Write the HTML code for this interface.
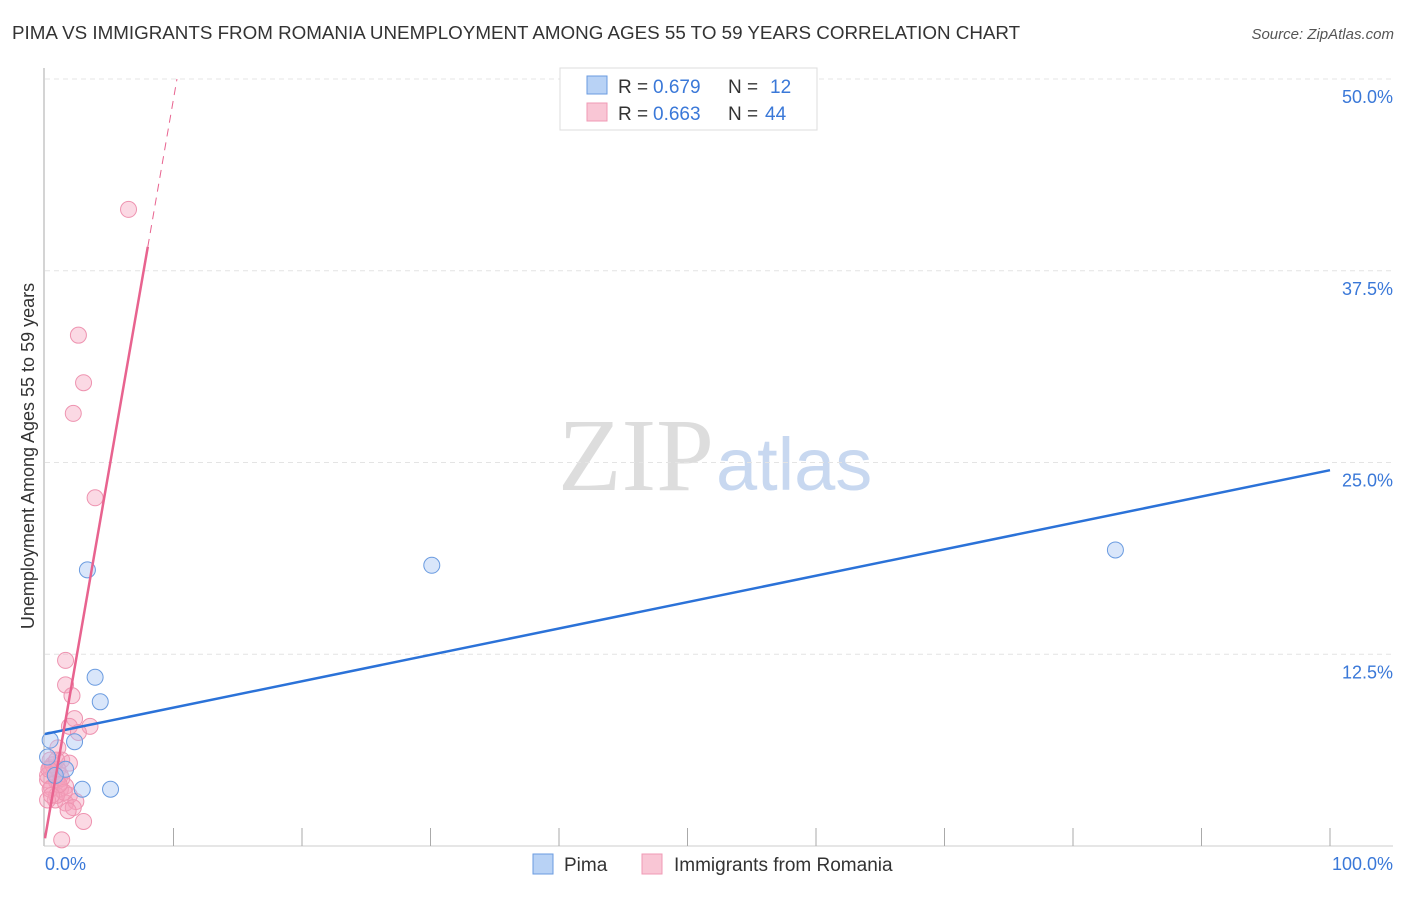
<!DOCTYPE html>
<html><head><meta charset="utf-8"><style>
body{margin:0;background:#fff;font-family:"Liberation Sans",sans-serif}
</style></head><body>
<svg id="c" width="1406" height="892" xmlns="http://www.w3.org/2000/svg" style="font-family:'Liberation Sans',sans-serif">
<text x="12" y="39" font-size="18.8" fill="#333">PIMA VS IMMIGRANTS FROM ROMANIA UNEMPLOYMENT AMONG AGES 55 TO 59 YEARS CORRELATION CHART</text>
<text x="1394" y="39" font-size="15" fill="#555" font-style="italic" text-anchor="end">Source: ZipAtlas.com</text>
<text x="714" y="490" font-size="104" fill="#ddd" font-family="'Liberation Serif',serif" text-anchor="end">ZIP</text>
<text x="716" y="490" font-size="74" fill="#c8d8f0">atlas</text>
<text transform="translate(34,456) rotate(-90)" font-size="18" fill="#333" text-anchor="middle">Unemployment Among Ages 55 to 59 years</text>
<g id="grid"></g><g id="marks"></g>
<g>
<rect x="560" y="68" width="257" height="62" fill="#fff" stroke="#ddd"/>
<rect x="587" y="76" width="20" height="18" fill="#b8d2f5" stroke="#6a9be0"/>
<text x="618" y="93" font-size="19" fill="#333">R =</text>
<text x="653" y="93" font-size="19" fill="#3a78d8">0.679</text>
<text x="728" y="93" font-size="19" fill="#333">N =</text>
<text x="770" y="93" font-size="19" fill="#3a78d8">12</text>
<rect x="587" y="103" width="20" height="18" fill="#f9c6d5" stroke="#f09ab5"/>
<text x="618" y="120" font-size="19" fill="#333">R =</text>
<text x="653" y="120" font-size="19" fill="#3a78d8">0.663</text>
<text x="728" y="120" font-size="19" fill="#333">N =</text>
<text x="765" y="120" font-size="19" fill="#3a78d8">44</text>
</g>
<g>
<rect x="533" y="854" width="20" height="20" fill="#b8d2f5" stroke="#6a9be0"/>
<text x="564" y="871" font-size="19" fill="#333">Pima</text>
<rect x="642" y="854" width="20" height="20" fill="#f9c6d5" stroke="#f09ab5"/>
<text x="674" y="871" font-size="19" fill="#333">Immigrants from Romania</text>
</g>
</svg>
<script>
const yTicks=[12.5,25,37.5,50];
const yTickLabels=["12.5%","25.0%","37.5%","50.0%"];
const xTickLabels=["0.0%","100.0%"];
const pimaX=[3.3,30.1,83.3,3.9,4.3,2.3,2.9,5.1,1.6,0.4,0.2,0.8];
const pimaY=[18.0,18.3,19.3,11.0,9.4,6.8,3.7,3.7,5.0,6.9,5.8,4.6];
const romX=[6.5,2.6,3.0,2.2,3.9,1.6,1.6,2.1,2.3,3.5,1.9,2.6,1.0,1.3,1.9,0.4,0.7,1.2,0.2,0.9,1.6,0.5,1.2,1.9,0.8,1.6,2.4,2.2,1.8,3.0,1.3,0.4,0.2,0.6,1.0,1.3,0.4,0.9,0.2,1.5,1.1,0.5,0.9,0.3];
const romY=[41.5,33.3,30.2,28.2,22.7,12.1,10.5,9.8,8.3,7.8,7.8,7.4,6.4,5.6,5.4,5.1,4.8,4.6,4.3,4.2,3.9,3.8,3.7,3.3,3.0,2.8,2.9,2.5,2.3,1.6,0.4,5.6,4.6,5.3,5.0,4.4,3.7,3.3,3.0,3.5,4.0,3.3,5.6,5.0];
const pimaLine=[7.3,24.5];
const romLine=[0.5,4.82];
const NS="http://www.w3.org/2000/svg";
const X=v=>45+v*12.85, Y=v=>846-v*15.34;
function mk(t,a,p){const e=document.createElementNS(NS,t);for(const k in a)e.setAttribute(k,a[k]);p.appendChild(e);return e;}
const g=document.getElementById('grid'), m=document.getElementById('marks');
yTicks.forEach((t,i)=>{
 const l=mk('line',{x1:45,x2:1393,y1:Y(t),y2:Y(t),stroke:'#e4e4e4','stroke-dasharray':'5,4'},g);
 
 
 const tx=mk('text',{x:1393,y:Y(t)+24,'font-size':18,fill:'#3a78d8','text-anchor':'end'},g);tx.textContent=yTickLabels[i];
 
 
});
const ax=mk('line',{x1:44,x2:44,y1:68,y2:846,stroke:'#aaa'},g);


const bx=mk('line',{x1:44,x2:1393,y1:846,y2:846,stroke:'#ccc'},g);


for(let i=1;i<=10;i++){const t=mk('line',{x1:X(i*10),x2:X(i*10),y1:828,y2:846,stroke:'#aaa'},g);
 
 }
[[0,'start',45],[100,'end',1393]].forEach((d,i)=>{const t=mk('text',{x:d[2],y:870,'font-size':18,fill:'#3a78d8','text-anchor':d[1]},g);t.textContent=xTickLabels[i];
 
 });
romX.forEach((x,i)=>{const c=mk('circle',{cx:X(x),cy:Y(romY[i]),r:8,fill:'rgba(245,160,188,0.4)',stroke:'#ee93b0','stroke-width':1},m);
 
 });
pimaX.forEach((x,i)=>{const c=mk('circle',{cx:X(x),cy:Y(pimaY[i]),r:8,fill:'rgba(170,200,245,0.45)',stroke:'#6a9be0','stroke-width':1},m);
 
 });
const bl=mk('line',{x1:X(0),y1:Y(pimaLine[0]),x2:X(100),y2:Y(pimaLine[1]),stroke:'#2b72d8','stroke-width':2.5},m);


const xs=8.0, xe=(50-romLine[0])/romLine[1];
const rl=mk('line',{x1:X(0),y1:Y(romLine[0]),x2:X(xs),y2:Y(romLine[0]+romLine[1]*xs),stroke:'#e8638f','stroke-width':2.5},m);


const rd=mk('line',{x1:X(xs),y1:Y(romLine[0]+romLine[1]*xs),x2:X(xe),y2:Y(50),stroke:'#e8638f','stroke-width':1,'stroke-dasharray':'8,6'},m);


</script>
</body></html>
